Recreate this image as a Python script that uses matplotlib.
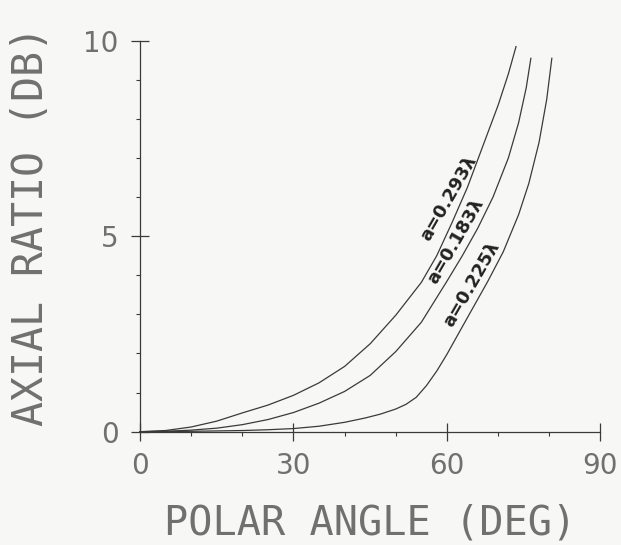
import matplotlib
matplotlib.use("Agg")
import matplotlib.pyplot as plt
from matplotlib.ticker import MultipleLocator

# axial ratio (dB) vs polar angle (deg)
ANG_293 = [0, 5, 10, 15, 20, 25, 30, 35, 40, 45, 50, 55, 58, 61, 64, 67, 70, 72, 73.5]
AR_293 = [0, 0.03, 0.12, 0.27, 0.48, 0.68, 0.93, 1.25, 1.67, 2.25, 2.98, 3.82, 4.5, 5.35, 6.25, 7.3, 8.35, 9.15, 9.85]

ANG_183 = [0, 5, 10, 15, 20, 25, 30, 35, 40, 45, 50, 55, 60, 63, 66, 69, 72, 74, 75.5, 76.4]
AR_183 = [0, 0.01, 0.04, 0.09, 0.18, 0.31, 0.49, 0.73, 1.03, 1.44, 2.05, 2.8, 3.85, 4.5, 5.2, 6.0, 7.0, 7.9, 8.8, 9.55]

ANG_225 = [0, 10, 20, 25, 30, 35, 40, 44, 47, 50, 52, 54, 56, 58, 60, 62, 65, 68, 71, 74, 76, 78, 79.5, 80.5]
AR_225 = [0, 0.01, 0.03, 0.05, 0.08, 0.14, 0.24, 0.35, 0.45, 0.58, 0.7, 0.88, 1.18, 1.55, 1.98, 2.45, 3.15, 3.85, 4.6, 5.55, 6.35, 7.4, 8.5, 9.55]

CURVE_LABELS = ["a=0.293\u03bb", "a=0.183\u03bb", "a=0.225\u03bb"]
LABEL_AT = [(62.5, 5.8), (63.9, 4.7), (67.0, 3.6)]   # point on each curve under its label
XTICKS = [0, 30, 60, 90]
YTICKS = [0, 5, 10]

INK = "#3a3a3a"
TXT = "#707070"
BG = "#f7f7f5"
PLOTTER = "DejaVu Sans Mono"   # fixed pitch, like the pen-plotter lettering

fig = plt.figure(figsize=(6.21, 5.45), dpi=100, facecolor=BG)
ax = fig.add_axes([0.2254, 0.2079, 0.7415, 0.7174])
ax.set_facecolor(BG)

for xs, ys in [(ANG_293, AR_293), (ANG_183, AR_183), (ANG_225, AR_225)]:
    ax.plot(xs, ys, color=INK, lw=0.9, clip_on=False)

ax.set_xlim(0, 90); ax.set_ylim(0, 10)
for s in ["top", "right"]:
    ax.spines[s].set_visible(False)
for s in ["left", "bottom"]:
    ax.spines[s].set_color(INK); ax.spines[s].set_linewidth(0.9)

ax.set_xticks(XTICKS); ax.set_yticks(YTICKS)
ax.xaxis.set_minor_locator(MultipleLocator(10))
ax.yaxis.set_minor_locator(MultipleLocator(1))
ax.tick_params(which="major", direction="inout", length=13, width=0.9, color=INK,
               labelsize=20, labelcolor=TXT)
ax.tick_params(axis="x", which="major", pad=8)
ax.tick_params(axis="y", which="major", pad=9)
ax.tick_params(which="minor", direction="out", length=3, width=0.8, color=INK)

ax.set_xlabel("POLAR ANGLE (DEG)", fontsize=29, color=TXT, family=PLOTTER)
ax.set_ylabel("AXIAL RATIO (DB)", fontsize=30, color=TXT, family=PLOTTER)
ax.xaxis.set_label_coords(0.5, -0.183)
ax.yaxis.set_label_coords(-0.19, 0.525)

# rotated labels sitting just above-left of each curve
for (lx, ly), txt in zip(LABEL_AT, CURVE_LABELS):
    ax.annotate(txt, xy=(lx, ly), xytext=(-2.6, 1.5), textcoords="offset points",
                rotation=60, rotation_mode="anchor", ha="center", va="bottom",
                fontsize=13, fontweight="bold", color="#222")

fig.savefig("out.png", dpi=100, facecolor=BG)
